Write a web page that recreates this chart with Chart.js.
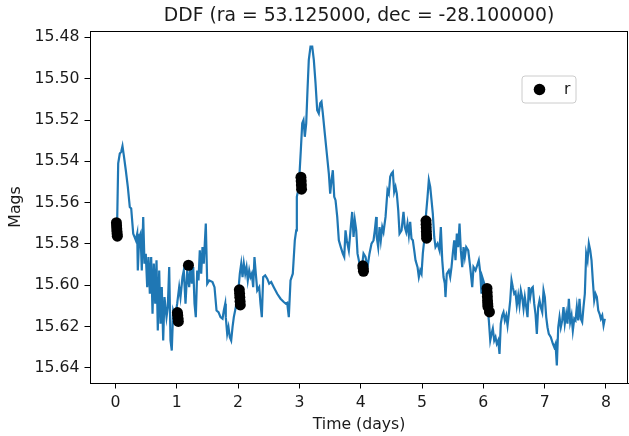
<!DOCTYPE html>
<html>
<head>
<meta charset="utf-8">
<script src="https://cdn.jsdelivr.net/npm/chart.js@4"></script>
<style>
  html, body { margin: 0; padding: 0; background: #fff; }
  #c { display: block; }
</style>
</head>
<body>
<canvas id="c" width="629" height="436"></canvas>
<script>
const chartTitle = 'DDF (ra = 53.125000, dec = -28.100000)';
const xTitle = 'Time (days)';
const yTitle = 'Mags';
const legendLabel = 'r';

const xTicks = [0, 1, 2, 3, 4, 5, 6, 7, 8];
const yTicks = [15.48, 15.50, 15.52, 15.54, 15.56, 15.58, 15.60, 15.62, 15.64];

// Model light curve (blue line)
const lineTimes = [
  0.028,0.044,0.070,0.093,0.114,0.135,0.168,0.201,0.233,0.256,0.289,0.310,0.331,0.354,0.364,0.387,0.408,0.429,0.452,0.473,
  0.494,0.517,0.538,0.560,0.582,0.604,0.625,0.648,0.669,0.690,0.713,0.734,0.755,0.778,0.799,0.832,0.853,0.876,0.897,0.918,
  0.941,0.974,1.006,1.039,1.060,1.093,1.114,1.142,1.170,1.202,1.223,1.245,1.268,1.289,1.310,1.333,1.354,1.375,1.398,1.419,
  1.440,1.473,1.496,1.529,1.582,1.615,1.648,1.680,1.713,1.746,1.767,1.790,1.799,1.822,1.843,1.865,1.887,1.909,1.930,1.962,
  1.995,2.028,2.051,2.072,2.093,2.116,2.137,2.158,2.181,2.202,2.223,2.246,2.267,2.289,2.312,2.344,2.365,2.387,2.409,2.442,
  2.475,2.507,2.540,2.582,2.638,2.692,2.745,2.778,2.801,2.827,2.855,2.892,2.925,2.948,2.958,2.980,3.002,3.023,3.046,3.067,
  3.088,3.111,3.132,3.153,3.181,3.209,3.235,3.263,3.290,3.316,3.339,3.360,3.382,3.414,3.447,3.480,3.502,3.524,3.545,3.568,
  3.589,3.617,3.643,3.675,3.708,3.731,3.752,3.773,3.806,3.838,3.861,3.883,3.904,3.927,3.948,3.980,4.013,4.046,4.078,4.111,
  4.143,4.176,4.209,4.230,4.253,4.261,4.285,4.307,4.328,4.351,4.372,4.405,4.437,4.458,4.481,4.502,4.524,4.546,4.568,4.589,
  4.612,4.633,4.666,4.698,4.719,4.742,4.763,4.785,4.807,4.828,4.850,4.873,4.894,4.927,4.948,4.971,4.992,5.013,5.036,5.057,
  5.090,5.111,5.134,5.155,5.176,5.199,5.220,5.253,5.285,5.307,5.330,5.351,5.372,5.383,5.404,5.437,5.460,5.481,5.502,5.525,
  5.546,5.568,5.590,5.612,5.633,5.656,5.677,5.698,5.721,5.754,5.786,5.819,5.840,5.873,5.901,5.926,5.949,5.970,5.982,6.015,
  6.047,6.068,6.090,6.113,6.134,6.155,6.178,6.199,6.220,6.243,6.264,6.285,6.308,6.329,6.351,6.374,6.395,6.416,6.439,6.460,
  6.481,6.504,6.525,6.546,6.569,6.590,6.612,6.634,6.656,6.677,6.700,6.721,6.742,6.765,6.786,6.807,6.830,6.851,6.873,6.895,
  6.917,6.938,6.961,6.982,7.003,7.026,7.047,7.068,7.101,7.134,7.157,7.178,7.199,7.222,7.243,7.264,7.287,7.308,7.329,7.352,
  7.373,7.395,7.417,7.439,7.460,7.483,7.504,7.525,7.548,7.569,7.590,7.613,7.634,7.656,7.678,7.700,7.721,7.744,7.765,7.786,
  7.809,7.830,7.852,7.875,7.896,7.917,7.940,7.961,7.982
];
const lineMags = [
  15.5677,15.5410,15.5362,15.5354,15.5326,15.5370,15.5443,15.5524,15.5621,15.5628,15.5750,15.5766,15.5782,15.5750,15.5928,15.5766,15.5750,15.5928,15.5669,15.5895,
  15.5847,15.6009,15.5863,15.6041,15.5863,15.6138,15.5895,15.6089,15.5879,15.6219,15.5928,15.6186,15.6009,15.6267,15.6057,15.6154,15.6106,15.5912,15.6267,15.6316,
  15.6122,15.6154,15.6089,15.6009,15.6057,15.5960,15.5928,15.6089,15.5928,15.6009,15.5895,15.5992,15.5912,15.6089,15.6154,15.5928,15.5976,15.5831,15.5944,15.5815,
  15.5895,15.5701,15.5992,15.5976,15.5984,15.6009,15.6122,15.6130,15.6154,15.6162,15.6122,15.6089,15.6154,15.6235,15.6203,15.6251,15.6267,15.6203,15.6154,15.6106,
  15.6057,15.5944,15.5895,15.5960,15.5895,15.5944,15.5912,15.5976,15.5928,15.5960,15.5944,15.6009,15.5863,15.5944,15.6025,15.6009,15.6089,15.6154,15.5960,15.5952,
  15.5968,15.5992,15.5984,15.6009,15.6041,15.6065,15.6081,15.6089,15.6085,15.6154,15.5976,15.5944,15.5782,15.5734,15.5572,15.5540,15.5459,15.5346,15.5216,15.5200,
  15.5281,15.5216,15.5055,15.4909,15.4845,15.4845,15.4909,15.5022,15.5152,15.5168,15.5119,15.5111,15.5168,15.5265,15.5362,15.5459,15.5556,15.5491,15.5443,15.5572,
  15.5588,15.5669,15.5782,15.5815,15.5847,15.5863,15.5734,15.5782,15.5831,15.5718,15.5645,15.5766,15.5685,15.5734,15.5847,15.5895,15.5928,15.5847,15.5863,15.5912,
  15.5847,15.5798,15.5782,15.5734,15.5669,15.5766,15.5815,15.5718,15.5782,15.5718,15.5742,15.5669,15.5540,15.5556,15.5475,15.5459,15.5451,15.5548,15.5524,15.5556,
  15.5637,15.5750,15.5734,15.5645,15.5718,15.5742,15.5701,15.5758,15.5693,15.5774,15.5782,15.5831,15.5879,15.5912,15.5960,15.5928,15.5944,15.5847,15.5782,15.5685,
  15.5572,15.5491,15.5524,15.5588,15.5653,15.5766,15.5815,15.5798,15.5831,15.5718,15.5879,15.5960,15.5992,15.6057,15.5944,15.5928,15.5960,15.5912,15.5847,15.5782,
  15.5879,15.5750,15.5815,15.5701,15.5831,15.5912,15.5815,15.5863,15.5815,15.5831,15.5912,15.6009,15.5912,15.5928,15.5903,15.5879,15.5936,15.6041,15.5960,15.5992,
  15.6041,15.6106,15.6170,15.6267,15.6235,15.6210,15.6267,15.6251,15.6283,15.6267,15.6332,15.6186,15.6146,15.6130,15.6170,15.6146,15.6194,15.6138,15.6073,15.5976,
  15.6009,15.6041,15.6033,15.6097,15.6049,15.6097,15.6025,15.6057,15.6113,15.6057,15.6106,15.6154,15.6009,15.6057,15.6016,15.6009,15.6089,15.6138,15.6235,15.6106,
  15.6073,15.6106,15.6130,15.6025,15.6057,15.6154,15.6203,15.6235,15.6251,15.6283,15.6300,15.6283,15.6388,15.6203,15.6154,15.6203,15.6170,15.6106,15.6186,15.6138,
  15.6186,15.6065,15.6178,15.6146,15.6219,15.6162,15.6170,15.6106,15.6170,15.6065,15.6162,15.6178,15.6106,15.6041,15.5847,15.5879,15.5798,15.5831,15.5879,15.5976,
  15.6073,15.6041,15.6057,15.6122,15.6138,15.6162,15.6146,15.6194,15.6162
];

// r-band observations (black dots)
const rTimes = [
  0.015,0.018,0.021,0.024,0.027,0.030,
  1.010,1.015,1.020,1.025,
  1.190,
  2.020,2.024,2.028,2.032,2.036,
  3.025,3.029,3.032,3.035,
  4.035,4.040,4.045,
  5.065,5.067,5.069,5.071,5.073,5.075,
  6.060,6.063,6.066,6.069,6.072,6.075,6.100
];
const rMags = [
  15.5697,15.5712,15.5726,15.5740,15.5752,15.5762,
  15.6132,15.6145,15.6160,15.6175,
  15.5903,
  15.6022,15.6040,15.6058,15.6077,15.6095,
  15.5477,15.5495,15.5515,15.5535,
  15.5906,15.5918,15.5932,
  15.5688,15.5705,15.5722,15.5740,15.5757,15.5772,
  15.6015,15.6035,15.6055,15.6075,15.6090,15.6103,15.6129
];

const FONT = "'DejaVu Sans', sans-serif";
const TEXT = '#1a1a1a';
const FS = 15.7;

const framePlugin = {
  id: 'framePlugin',
  afterDraw(chart) {
    const ctx = chart.ctx;
    const a = chart.chartArea;
    ctx.save();
    // axes frame
    ctx.strokeStyle = '#000';
    ctx.lineWidth = 1;
    ctx.strokeRect(Math.round(a.left) + 0.5, Math.round(a.top) + 0.5,
                   Math.round(a.right - a.left) - 1, Math.round(a.bottom - a.top));
    // title
    ctx.fillStyle = TEXT;
    ctx.font = '18.8px ' + FONT;
    ctx.textAlign = 'center';
    ctx.textBaseline = 'middle';
    ctx.fillText(chartTitle, (a.left + a.right) / 2, 16.5);
    // legend
    const lx = 522, ly = 76, lw = 54, lh = 27;
    ctx.beginPath();
    const r = 3;
    ctx.moveTo(lx + r, ly);
    ctx.lineTo(lx + lw - r, ly);
    ctx.quadraticCurveTo(lx + lw, ly, lx + lw, ly + r);
    ctx.lineTo(lx + lw, ly + lh - r);
    ctx.quadraticCurveTo(lx + lw, ly + lh, lx + lw - r, ly + lh);
    ctx.lineTo(lx + r, ly + lh);
    ctx.quadraticCurveTo(lx, ly + lh, lx, ly + lh - r);
    ctx.lineTo(lx, ly + r);
    ctx.quadraticCurveTo(lx, ly, lx + r, ly);
    ctx.closePath();
    ctx.fillStyle = 'rgba(255,255,255,0.8)';
    ctx.fill();
    ctx.strokeStyle = '#cccccc';
    ctx.lineWidth = 1;
    ctx.stroke();
    ctx.beginPath();
    ctx.arc(539.5, 89.5, 5.8, 0, Math.PI * 2);
    ctx.fillStyle = '#000';
    ctx.fill();
    ctx.fillStyle = TEXT;
    ctx.font = FS + 'px ' + FONT;
    ctx.textAlign = 'left';
    ctx.textBaseline = 'middle';
    ctx.fillText(legendLabel, 564, 89.5);
    ctx.restore();
  }
};

new Chart(document.getElementById('c'), {
  type: 'scatter',
  data: {
    datasets: [
      {
        label: legendLabel,
        data: rTimes.map((t, i) => ({ x: t, y: rMags[i] })),
        backgroundColor: '#000',
        borderColor: '#000',
        pointRadius: 5.5,
        pointBorderWidth: 0,
        showLine: false,
        order: 0
      },
      {
        label: 'model',
        data: lineTimes.map((t, i) => ({ x: t, y: lineMags[i] })),
        borderColor: '#1f77b4',
        backgroundColor: '#1f77b4',
        borderWidth: 2.2,
        pointRadius: 0,
        showLine: true,
        tension: 0,
        order: 1
      }
    ]
  },
  options: {
    responsive: false,
    devicePixelRatio: 1,
    animation: false,
    layout: { autoPadding: false, padding: { left: 0, right: 1, top: 31, bottom: 0 } },
    plugins: {
      legend: { display: false },
      title: { display: false },
      tooltip: { enabled: false }
    },
    scales: {
      x: {
        type: 'linear',
        min: -0.416,
        max: 8.36,
        afterBuildTicks: (s) => { s.ticks = xTicks.map(v => ({ value: v })); },
        afterFit: (s) => { s.height = 53; s.paddingLeft = 0; s.paddingRight = 0; },
        grid: { drawOnChartArea: false, drawTicks: true, tickLength: 5.5, color: '#000', lineWidth: 1 },
        border: { display: true, color: '#000', width: 1 },
        ticks: {
          color: TEXT, font: { family: FONT, size: FS }, padding: 5,
          autoSkip: false, maxRotation: 0,
          callback: (v) => String(v)
        },
        title: {
          display: true, text: xTitle, color: TEXT,
          font: { family: FONT, size: FS }, padding: { top: 0, bottom: 1.5 }
        }
      },
      y: {
        type: 'linear',
        reverse: true,
        min: 15.4769,
        max: 15.6473,
        afterBuildTicks: (s) => { s.ticks = yTicks.map(v => ({ value: v })); },
        afterFit: (s) => { s.width = 90; s.paddingTop = 0; s.paddingBottom = 0; },
        grid: { drawOnChartArea: false, drawTicks: true, tickLength: 5.5, color: '#000', lineWidth: 1 },
        border: { display: true, color: '#000', width: 1 },
        ticks: {
          color: TEXT, font: { family: FONT, size: FS }, padding: 5,
          autoSkip: false,
          callback: (v) => Number(v).toFixed(2)
        },
        title: {
          display: true, text: yTitle, color: TEXT,
          font: { family: FONT, size: FS }, padding: { top: 6.5, bottom: 0 }
        }
      }
    }
  },
  plugins: [framePlugin]
});
</script>
</body>
</html>
